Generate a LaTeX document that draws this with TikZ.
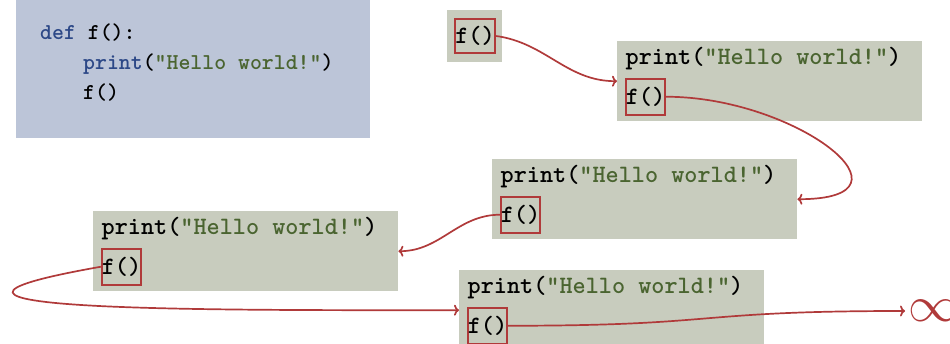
\documentclass[tikz,border=0pt]{standalone}
\usetikzlibrary{arrows.meta}
\definecolor{graybox}{RGB}{200,204,190}
\definecolor{bluebox}{RGB}{188,197,216}
\definecolor{callred}{RGB}{176,58,58}
\definecolor{kwblue}{RGB}{44,72,135}
\definecolor{strgreen}{RGB}{74,100,48}
\begin{document}
\begin{tikzpicture}[x=1pt,y=-1pt,
  frame/.style={fill=graybox, minimum width=305pt, minimum height=80pt, inner sep=0pt, anchor=north west},
  codeline/.style={font=\fontsize{25}{30}\selectfont\ttfamily\bfseries, inner sep=0pt, anchor=base west},
  smallcode/.style={font=\fontsize{22.7}{30}\selectfont\ttfamily\bfseries, inner sep=0pt, anchor=base west},
  callbox/.style={draw=callred, line width=1.9pt, minimum width=39.5pt, minimum height=36pt, inner sep=0pt,
    font=\fontsize{25}{30}\selectfont\ttfamily\bfseries, anchor=north west},
  callarrow/.style={draw=callred, line width=1.7pt, -{To[length=5pt,width=11pt]}}
]
\useasboundingbox (0,0) rectangle (950,344);
% code box
\node[fill=bluebox, minimum width=354pt, minimum height=138pt, inner sep=0pt, anchor=north west] (code) at (16,0) {};
\node[smallcode] (l1) at (40,40) {\textcolor{kwblue}{def} f():};
\node[smallcode] (l2) at (83,70) {\textcolor{kwblue}{print}(\textcolor{strgreen}{"Hello world!"})};
\node[smallcode] (l3) at (83,100) {f()};
% first call
\node[fill=graybox, minimum width=55pt, minimum height=52pt, inner sep=0pt, anchor=north west] (g0) at (447,10) {};
\node[callbox, minimum width=40.5pt, minimum height=34.5pt] (f0) at (453.8,17.8) {f()};
% frames
\foreach \n/\x/\y in {A/617/41, B/492/159, C/93/211, D/459/270}{
  \node[frame] (g\n) at (\x,\y) {};
  \node[codeline] (p\n) at (\x+8.5,\y+24) {print(\textcolor{strgreen}{"Hello world!"})};
  \node[callbox] (f\n) at (\x+7.8,\y+36.8) {f()};
}
\node[text=callred, font=\Huge, scale=2, inner sep=1.5pt, anchor=west] (inf) at (905,311) {$\infty$};
% arrows
\draw[callarrow] (f0.east) to[out=-8,in=180] (gA.west);
\draw[callarrow] (fA.east) to[out=0,in=0,looseness=2] (gB.east);
\draw[callarrow] (fB.west) to[out=180,in=0] (gC.east);
\draw[callarrow] (fC.west) to[out=190,in=180,looseness=1.84] (gD.west);
\draw[callarrow] (fD.east) to[out=0,in=180,looseness=1.4] (inf.west);
\end{tikzpicture}
\end{document}
